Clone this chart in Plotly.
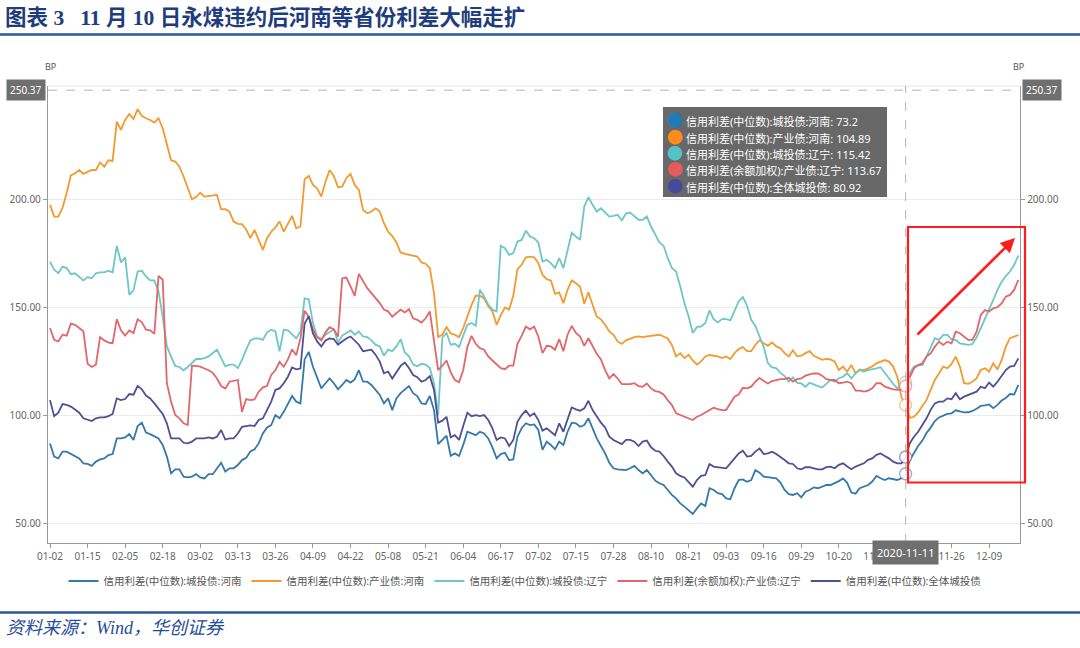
import pandas as pd
import plotly.graph_objects as go

# ---------------- categories (trading days shown on the source axis) ----------------
skip_days = ["2020-01-24", "2020-01-27", "2020-01-28", "2020-01-29", "2020-01-30", "2020-01-31",
             "2020-04-06", "2020-05-01", "2020-05-04", "2020-05-05", "2020-05-29",
             "2020-06-25", "2020-06-26", "2020-10-01", "2020-10-02", "2020-10-05",
             "2020-10-06", "2020-10-07", "2020-10-08"]
dates = [d.strftime("%Y-%m-%d") for d in pd.bdate_range("2020-01-02", "2020-12-18")
         if d.strftime("%Y-%m-%d") not in skip_days]

tick_dates = ["2020-01-02", "2020-01-15", "2020-02-05", "2020-02-18", "2020-03-02", "2020-03-13",
              "2020-03-26", "2020-04-09", "2020-04-22", "2020-05-08", "2020-05-21", "2020-06-04",
              "2020-06-17", "2020-07-02", "2020-07-15", "2020-07-28", "2020-08-10", "2020-08-21",
              "2020-09-03", "2020-09-16", "2020-09-29", "2020-10-20", "2020-11-02", "2020-11-13",
              "2020-11-26", "2020-12-09"]
hidden_ticks = ["2020-11-13"]  # covered by the axis-pointer label in the source
tick_text = ["" if d in hidden_ticks else d[5:] for d in tick_dates]

series_names = ["信用利差(中位数):城投债:河南", "信用利差(中位数):产业债:河南",
                "信用利差(中位数):城投债:辽宁", "信用利差(余额加权):产业债:辽宁",
                "信用利差(中位数):全体城投债"]
line_colors = ["#3479a9", "#f39a2e", "#6cc7c6", "#e2666a", "#4d5193"]
dot_colors = ["#1f7cb6", "#ff8c1a", "#52c3c8", "#e55a5a", "#454a9b"]
ring_colors = ["rgba(52,121,169,0.55)", "rgba(243,154,46,0.55)", "rgba(108,199,198,0.55)",
               "rgba(226,102,106,0.55)", "rgba(77,81,147,0.55)"]

# ---------------- series values (BP) ----------------
hn_chengtou = [
    87.2, 81.1, 80.3, 83.4, 83.4, 82.3, 81.4, 80.3, 78.0, 77.7,
    76.8, 78.8, 79.8, 80.3, 81.8, 82.3, 89.5, 89.5, 90.0, 91.5,
    88.8, 95.2, 96.8, 92.2, 91.5, 90.3, 89.5, 86.5, 81.1, 73.4,
    75.2, 75.2, 71.8, 71.5, 71.8, 73.0, 71.5, 71.0, 73.0, 73.0,
    75.7, 78.3, 74.2, 75.7, 75.7, 77.2, 79.5, 80.5, 83.5, 84.5,
    87.2, 91.8, 94.6, 95.7, 100.3, 98.8, 101.8, 105.7, 109.1, 106.5,
    105.7, 126.0, 129.5, 122.6, 117.2, 112.6, 115.0, 117.2, 115.0, 112.2,
    114.2, 116.5, 115.3, 116.8, 121.0, 115.7, 115.7, 114.2, 111.9, 109.6,
    105.7, 108.0, 102.6, 108.0, 110.4, 111.9, 113.7, 110.4, 109.1, 105.7,
    105.4, 109.1, 102.6, 86.9, 89.0, 90.8, 81.5, 82.6, 81.4, 86.5,
    92.6, 91.8, 91.0, 92.6, 91.8, 89.5, 85.4, 80.3, 82.3, 82.9,
    79.5, 79.8, 90.3, 94.2, 96.5, 95.7, 96.0, 93.4, 84.2, 88.0,
    86.5, 84.5, 88.0, 86.5, 92.6, 96.8, 96.5, 94.9, 95.7, 98.8,
    94.2, 89.5, 86.0, 82.6, 78.3, 75.7, 75.2, 74.9, 74.9, 75.7,
    76.8, 74.9, 73.4, 74.9, 72.6, 70.0, 68.8, 68.0, 65.7, 63.4,
    61.8, 59.5, 58.0, 56.5, 54.6, 57.2, 59.5, 58.3, 66.5, 65.7,
    64.2, 63.8, 61.8, 61.4, 66.5, 70.3, 70.6, 69.5, 70.3, 74.9,
    73.7, 71.8, 71.5, 71.5, 71.1, 69.1, 65.7, 63.8, 63.4, 64.2,
    62.3, 64.9, 65.7, 66.9, 66.5, 67.2, 68.0, 68.0, 68.8, 69.8,
    71.0, 69.0, 64.5, 64.0, 66.5, 67.2, 68.0, 69.6, 72.2, 71.1,
    70.3, 71.1, 70.6, 70.3, 71.1, 73.2, 79.5, 83.0, 86.0, 88.5,
    92.0, 94.5, 97.5, 99.2, 100.0, 100.8, 101.1, 102.5, 102.0, 101.5,
    101.6, 102.2, 103.2, 104.5, 104.8, 105.2, 103.5, 105.0, 107.0, 108.2,
    110.0, 109.8, 114.2]

hn_chanye = [
    197.4, 192.0, 192.0, 196.0, 203.0, 211.0, 212.0, 213.5, 211.7, 212.5,
    213.5, 213.5, 217.0, 215.0, 218.0, 217.7, 235.8, 232.0, 236.6, 239.4,
    237.0, 241.6, 238.5, 237.4, 236.6, 235.4, 237.4, 232.8, 225.0, 218.0,
    217.4, 215.0, 210.5, 205.0, 200.0, 201.0, 203.0, 201.2, 201.5, 201.5,
    202.0, 195.4, 195.4, 194.3, 189.7, 188.6, 188.5, 186.0, 182.0, 185.8,
    181.2, 176.6, 182.0, 185.0, 187.0, 189.7, 185.0, 188.9, 192.3, 186.6,
    187.4, 209.2, 210.8, 206.6, 205.0, 201.2, 208.1, 213.5, 210.8, 205.5,
    205.8, 209.7, 211.7, 206.6, 204.3, 195.0, 193.5, 194.3, 195.8, 194.3,
    188.9, 185.0, 183.0, 180.0, 175.4, 174.8, 174.3, 173.8, 173.5, 170.8,
    170.2, 168.2, 156.6, 136.3, 137.4, 141.0, 138.0, 137.4, 136.3, 140.5,
    145.8, 151.2, 155.4, 155.4, 154.2, 150.6, 148.2, 142.0, 146.5, 150.0,
    149.0, 155.4, 167.7, 169.7, 173.2, 173.5, 173.2, 170.5, 165.1, 163.1,
    162.5, 156.3, 157.0, 152.0, 158.2, 162.5, 161.2, 159.7, 151.7, 157.0,
    151.1, 145.8, 144.5, 142.0, 138.9, 137.4, 134.3, 133.2, 134.8, 135.7,
    136.3, 136.6, 136.3, 136.6, 136.9, 137.4, 137.4, 136.6, 135.7, 132.6,
    127.4, 128.9, 126.6, 128.1, 125.5, 123.6, 125.1, 127.4, 128.1, 127.7,
    127.4, 126.6, 127.4, 126.2, 128.9, 130.8, 131.7, 129.8, 129.8, 132.8,
    134.8, 133.5, 132.3, 133.8, 132.0, 131.2, 128.9, 127.4, 130.2, 127.4,
    127.7, 128.9, 129.8, 127.7, 126.6, 125.8, 126.2, 126.0, 125.0, 121.1,
    122.7, 120.4, 123.4, 119.6, 121.4, 121.1, 121.9, 122.7, 124.2, 125.0,
    125.7, 125.0, 122.7, 118.0, 108.5, 104.89, 99.0, 99.5, 101.5, 104.5,
    107.3, 111.9, 116.5, 119.6, 122.7, 121.9, 123.9, 127.3, 122.7, 115.0,
    114.7, 115.7, 117.3, 121.1, 121.9, 120.4, 124.2, 121.4, 125.7, 131.9,
    135.8, 136.5, 137.3]

ln_chengtou = [
    171.2, 167.4, 165.8, 168.9, 168.2, 165.4, 165.8, 164.3, 162.5, 164.0,
    163.5, 165.8, 166.2, 166.2, 167.0, 166.2, 178.5, 170.8, 173.2, 155.8,
    158.0, 166.6, 167.0, 164.3, 162.5, 162.5, 157.4, 145.8, 132.0, 127.4,
    123.0, 122.5, 121.0, 122.5, 124.3, 126.2, 126.2, 126.6, 127.4, 129.0,
    130.5, 126.6, 122.8, 123.6, 123.6, 122.0, 125.8, 130.5, 134.8, 135.7,
    135.7, 135.0, 138.5, 139.7, 138.9, 129.8, 139.7, 139.4, 137.4, 135.7,
    138.9, 154.2, 153.8, 142.8, 136.6, 135.4, 137.4, 138.5, 139.9, 133.8,
    137.0, 138.2, 139.4, 137.4, 138.9, 136.6, 136.3, 134.8, 132.8, 132.0,
    127.7, 130.5, 129.8, 132.0, 135.4, 129.2, 127.4, 123.6, 122.8, 124.0,
    123.6, 122.0, 115.0, 100.3, 136.0, 138.2, 132.8, 133.2, 131.7, 137.0,
    142.0, 142.8, 141.6, 158.2, 155.1, 151.3, 149.0, 148.2, 178.5, 177.4,
    174.3, 175.1, 180.5, 181.2, 185.5, 182.8, 182.0, 180.0, 171.2, 172.0,
    170.5, 168.2, 172.8, 168.2, 176.6, 184.5, 182.8, 181.2, 196.6, 200.9,
    197.4, 194.3, 195.8, 193.8, 192.0, 192.3, 192.8, 190.2, 193.5, 193.8,
    192.3, 190.5, 190.5, 192.0, 187.4, 183.5, 180.0, 178.5, 172.8, 168.2,
    166.6, 159.7, 152.0, 145.8, 138.2, 141.0, 141.2, 142.8, 148.6, 144.6,
    143.1, 144.6, 144.6, 144.0, 148.2, 152.8, 154.8, 150.8, 144.3, 141.5,
    136.6, 131.7, 124.3, 122.3, 122.0, 119.8, 118.3, 115.7, 117.7, 115.2,
    114.9, 113.4, 115.2, 114.6, 113.7, 113.0, 114.9, 116.5, 115.7, 117.3,
    118.0, 119.6, 117.3, 119.6, 121.1, 120.4, 121.1, 121.4, 121.9, 122.4,
    119.6, 117.3, 114.7, 112.7, 114.2, 115.42, 119.6, 122.7, 123.4, 123.4,
    127.3, 131.9, 135.8, 135.0, 137.3, 137.3, 135.3, 135.0, 133.4, 133.1,
    132.7, 133.1, 136.2, 140.4, 144.5, 149.2, 153.5, 158.1, 161.9, 164.5,
    166.6, 169.6, 174.0]

ln_chanye = [
    140.5, 135.1, 134.3, 137.4, 137.0, 142.5, 142.0, 140.5, 139.0, 124.0,
    122.5, 123.6, 136.3, 134.8, 133.8, 133.5, 144.6, 139.4, 137.0, 139.4,
    138.2, 144.6, 143.1, 139.7, 139.4, 137.8, 164.6, 162.8, 115.0, 106.5,
    100.3, 98.8, 96.5, 95.7, 123.0, 123.0, 122.7, 121.8, 121.0, 119.8,
    117.2, 113.7, 112.6, 115.7, 116.2, 116.5, 101.8, 107.7, 107.2, 107.5,
    111.1, 113.1, 113.7, 118.8, 121.0, 124.9, 122.6, 126.0, 130.6, 128.0,
    135.7, 148.5, 145.7, 139.9, 136.3, 134.8, 138.5, 140.9, 139.9, 136.6,
    163.4, 163.8, 159.7, 155.4, 165.5, 162.0, 158.9, 156.6, 154.3, 152.0,
    149.0, 148.2, 145.7, 147.4, 149.0, 147.7, 149.2, 145.0, 144.3, 143.0,
    145.0, 148.2, 133.5, 121.0, 123.1, 125.5, 120.0, 116.5, 115.5, 121.0,
    131.8, 136.9, 133.2, 131.2, 130.5, 127.4, 125.5, 123.6, 122.0, 121.5,
    123.1, 123.1, 133.2, 136.9, 141.2, 139.9, 141.2, 136.6, 128.9, 132.3,
    132.0, 130.5, 135.4, 129.8, 137.4, 141.5, 138.2, 136.6, 132.3, 135.8,
    132.3, 128.6, 126.0, 121.1, 117.2, 119.2, 117.2, 114.6, 114.6, 114.6,
    115.0, 113.7, 113.4, 114.9, 112.6, 111.4, 111.0, 109.8, 107.2, 104.9,
    101.1, 100.3, 99.5, 98.8, 98.0, 99.5, 100.3, 101.5, 102.6, 103.7,
    103.0, 102.6, 102.6, 105.7, 108.8, 109.8, 112.9, 112.6, 113.4, 115.7,
    117.5, 116.0, 114.9, 116.0, 116.5, 116.9, 116.9, 117.5, 115.7, 116.9,
    117.2, 118.5, 119.1, 119.5, 119.5, 118.5, 116.9, 116.5, 116.5, 115.0,
    115.3, 115.7, 115.0, 111.6, 111.6, 111.1, 111.6, 112.7, 115.0, 115.0,
    113.4, 112.7, 112.2, 111.9, 112.0, 113.67, 118.0, 121.9, 123.4, 124.2,
    127.3, 128.8, 131.9, 134.2, 132.7, 134.2, 133.4, 138.8, 138.1, 136.5,
    135.0, 135.0, 138.8, 146.5, 148.8, 148.1, 149.6, 150.1, 151.9, 155.0,
    155.8, 158.1, 162.7]

all_chengtou = [
    107.2, 99.8, 101.4, 105.4, 105.0, 104.2, 102.9, 101.4, 98.8, 98.0,
    97.5, 98.8, 99.2, 99.2, 99.8, 100.8, 108.0, 107.2, 107.7, 110.0,
    109.7, 113.8, 112.2, 109.3, 108.0, 105.7, 103.0, 100.8, 96.5, 89.5,
    89.5, 89.5, 87.5, 87.2, 88.0, 89.5, 89.5, 89.5, 90.0, 89.5,
    90.3, 93.4, 89.0, 89.5, 89.5, 91.8, 94.9, 95.2, 95.5, 95.2,
    98.0, 98.8, 102.3, 106.5, 111.9, 112.6, 115.0, 118.0, 122.3, 121.4,
    121.8, 142.6, 146.0, 138.0, 134.3, 132.0, 134.8, 135.7, 135.4, 132.8,
    134.3, 135.7, 136.6, 134.8, 132.8, 129.8, 130.2, 130.5, 128.2, 125.0,
    119.6, 120.4, 117.2, 120.4, 123.0, 124.6, 122.0, 118.8, 117.8, 115.7,
    116.5, 118.3, 111.9, 96.8, 97.7, 99.5, 90.0, 91.0, 88.8, 95.2,
    101.4, 99.8, 100.3, 99.8, 100.3, 98.0, 94.2, 88.8, 90.0, 89.5,
    86.0, 88.8, 97.2, 100.3, 102.3, 99.8, 101.1, 98.0, 93.1, 94.2,
    92.6, 91.0, 96.5, 92.6, 98.3, 103.8, 102.9, 102.3, 103.4, 106.9,
    102.6, 99.5, 96.8, 94.6, 90.3, 88.8, 88.0, 86.9, 88.8, 88.8,
    88.0, 86.0, 88.0, 88.5, 85.4, 83.8, 83.4, 81.4, 78.8, 76.5,
    73.4, 72.2, 71.5, 69.5, 67.2, 70.3, 72.2, 72.6, 77.7, 76.5,
    76.2, 75.7, 75.7, 78.0, 80.3, 82.6, 83.8, 81.1, 81.4, 83.4,
    84.9, 82.3, 82.6, 83.4, 82.3, 81.1, 79.5, 78.0, 77.7, 75.7,
    75.2, 76.2, 76.2, 75.7, 75.2, 75.2, 76.2, 76.5, 75.7, 77.3,
    78.0, 76.5, 75.3, 76.5, 77.3, 78.0, 79.6, 80.3, 81.9, 82.6,
    81.4, 80.3, 78.8, 78.0, 78.0, 80.92, 87.3, 90.3, 92.6, 95.7,
    98.8, 102.7, 105.7, 106.5, 106.5, 108.0, 107.6, 110.4, 107.6, 108.8,
    109.6, 110.4, 111.1, 113.4, 112.7, 115.3, 113.4, 115.7, 118.4, 121.1,
    122.7, 123.0, 126.5]

series_values = [hn_chengtou, hn_chanye, ln_chengtou, ln_chanye, all_chengtou]
for s in series_values:
    assert len(s) == len(dates), (len(s), len(dates))

pointer_date = "2020-11-11"
pointer_level = 250.37
y_ticks = [50, 100, 150, 200]
y_range = [41.2, 252.3]

# ---------------- helpers: pixel -> paper coordinates (plot area 48..1020 x 86..543) ----------------
L, R, T, B = 48, 1020, 86, 543
def px(x):
    return (x - L) / (R - L)
def py(y):
    return (B - y) / (B - T)

fig = go.Figure()
for name, col, ys in zip(series_names, line_colors, series_values):
    fig.add_trace(go.Scatter(x=dates, y=ys, name=name, mode="lines",
                             line=dict(color=col, width=1.8), hoverinfo="skip"))

p_idx = dates.index(pointer_date)
pointer_values = [s[p_idx] for s in series_values]
fig.add_trace(go.Scatter(
    x=[pointer_date] * len(pointer_values), y=pointer_values, mode="markers",
    marker=dict(size=12, color="rgba(255,255,255,0.9)",
                line=dict(color=ring_colors, width=1.4)),
    showlegend=False, hoverinfo="skip"))

# invisible trace so the right-hand axis is drawn
fig.add_trace(go.Scatter(x=dates, y=all_chengtou, yaxis="y2", mode="lines",
                         line=dict(width=0), opacity=0, showlegend=False, hoverinfo="skip"))

axis_font = dict(family="Noto Sans, Noto Sans CJK SC", size=10, color="#666")
yax = dict(range=y_range, tickmode="array", tickvals=y_ticks, tickformat=".2f",
           ticks="outside", ticklen=4, tickcolor="#999", showline=True, linecolor="#999",
           linewidth=1.3, zeroline=False, tickfont=axis_font, automargin=False)

fig.update_layout(
    width=1080, height=648, paper_bgcolor="white", plot_bgcolor="white",
    margin=dict(l=L, r=1080 - R, t=T, b=648 - B, autoexpand=False),
    font=dict(family="Noto Sans, Noto Sans CJK SC", color="#666"),
    xaxis=dict(type="category", categoryorder="array", categoryarray=dates,
               range=[-0.48, len(dates) - 0.6], tickmode="array", tickvals=tick_dates,
               ticktext=tick_text, ticks="outside", ticklen=4, tickcolor="#999",
               showline=True, linecolor="#999", linewidth=1.3, showgrid=False,
               zeroline=False, tickfont=axis_font, automargin=False),
    yaxis=dict(**yax, showgrid=True, gridcolor="#ebebeb", gridwidth=1),
    yaxis2=dict(**yax, overlaying="y", side="right", showgrid=False),
    legend=dict(orientation="h", xref="paper", x=px(525), xanchor="center",
                yref="paper", y=py(581), yanchor="middle",
                font=dict(size=10.5, color="#555", family="Noto Sans, Noto Sans CJK SC"),
                itemwidth=30, bgcolor="rgba(0,0,0,0)"),
    showlegend=True,
)

shapes = []
shapes.append(dict(type="line", xref="paper", yref="paper", x0=0, x1=1, y0=1, y1=1,
                   line=dict(color="#e6e6e6", width=1)))
shapes.append(dict(type="line", xref="paper", yref="y", x0=0, x1=1, y0=pointer_level,
                   y1=pointer_level, line=dict(color="#b5b5b5", width=1, dash="dash")))
shapes.append(dict(type="line", xref="x", yref="paper", x0=pointer_date, x1=pointer_date,
                   y0=0, y1=1, line=dict(color="#b5b5b5", width=1, dash="dash")))
for yy in (34.5, 612.5):
    shapes.append(dict(type="line", xref="paper", yref="paper", x0=px(0), x1=px(1080),
                       y0=py(yy), y1=py(yy), line=dict(color="#2b569a", width=2.5)))
shapes.append(dict(type="rect", xref="paper", yref="paper", x0=px(663), x1=px(887),
                   y0=py(197), y1=py(107), fillcolor="rgba(88,88,88,0.9)",
                   line=dict(width=0)))
shapes.append(dict(type="rect", xref="paper", yref="paper", x0=px(908), x1=px(1025),
                   y0=py(482.5), y1=py(227), line=dict(color="#ff1c1c", width=2.2)))
fig.update_layout(shapes=shapes)

ann = []
ann.append(dict(xref="paper", yref="paper", x=px(3), y=py(18), xanchor="left", yanchor="middle",
                showarrow=False,
                text="<b>图表 3\u00a0\u00a0\u00a011 月 10 日永煤违约后河南等省份利差大幅走扩</b>",
                font=dict(family="Liberation Serif, Noto Sans CJK SC", size=21.5, color="#1f3d7c")))
ann.append(dict(xref="paper", yref="paper", x=px(4), y=py(628), xanchor="left", yanchor="middle",
                showarrow=False, text="<i>资料来源：Wind，华创证券</i>",
                font=dict(family="Liberation Serif, Noto Sans CJK SC", size=18, color="#1f4e9a")))
for xx in (50, 1018):
    ann.append(dict(xref="paper", yref="paper", x=px(xx), y=py(67), xanchor="center",
                    yanchor="middle", showarrow=False, text="BP",
                    font=dict(size=9, color="#555")))
for xx in (26, 1042):
    ann.append(dict(xref="paper", yref="y", x=px(xx), y=pointer_level, xanchor="center",
                    yanchor="middle", showarrow=False, text=f"{pointer_level:.2f}",
                    bgcolor="#6f6f6f", borderpad=3,
                    font=dict(size=10, color="white")))
ann.append(dict(xref="x", yref="paper", x=pointer_date, y=py(552), xanchor="center",
                yanchor="middle", showarrow=False, text=pointer_date, bgcolor="#6f6f6f",
                borderpad=4, font=dict(size=11, color="white")))
line_y = [120, 136.5, 152.5, 169, 185.5]
for name, dc, v, yy in zip(series_names, dot_colors, pointer_values, line_y):
    ann.append(dict(xref="paper", yref="paper", x=px(665), y=py(yy), xanchor="left",
                    yanchor="middle", showarrow=False,
                    text=f"<span style='color:{dc};font-size:16px'>●</span> {name}: {v:g}",
                    font=dict(size=11, color="white",
                              family="Noto Sans, Noto Sans CJK SC")))
ann.append(dict(xref="paper", yref="paper", x=px(1015), y=py(238), ax=916 - 1015, ay=336 - 238,
                axref="pixel", ayref="pixel", showarrow=True, arrowhead=2, arrowsize=1.1,
                arrowwidth=2.6, arrowcolor="#ff1c1c", text="", standoff=0))
fig.update_layout(annotations=ann)

fig.write_html(
    "out.html",
    config={"displayModeBar": False, "responsive": False},
    post_script=("document.documentElement.style.margin='0';"
                 "document.documentElement.style.overflow='hidden';"
                 "document.body.style.margin='0';"
                 "document.body.style.overflow='hidden';"),
)
